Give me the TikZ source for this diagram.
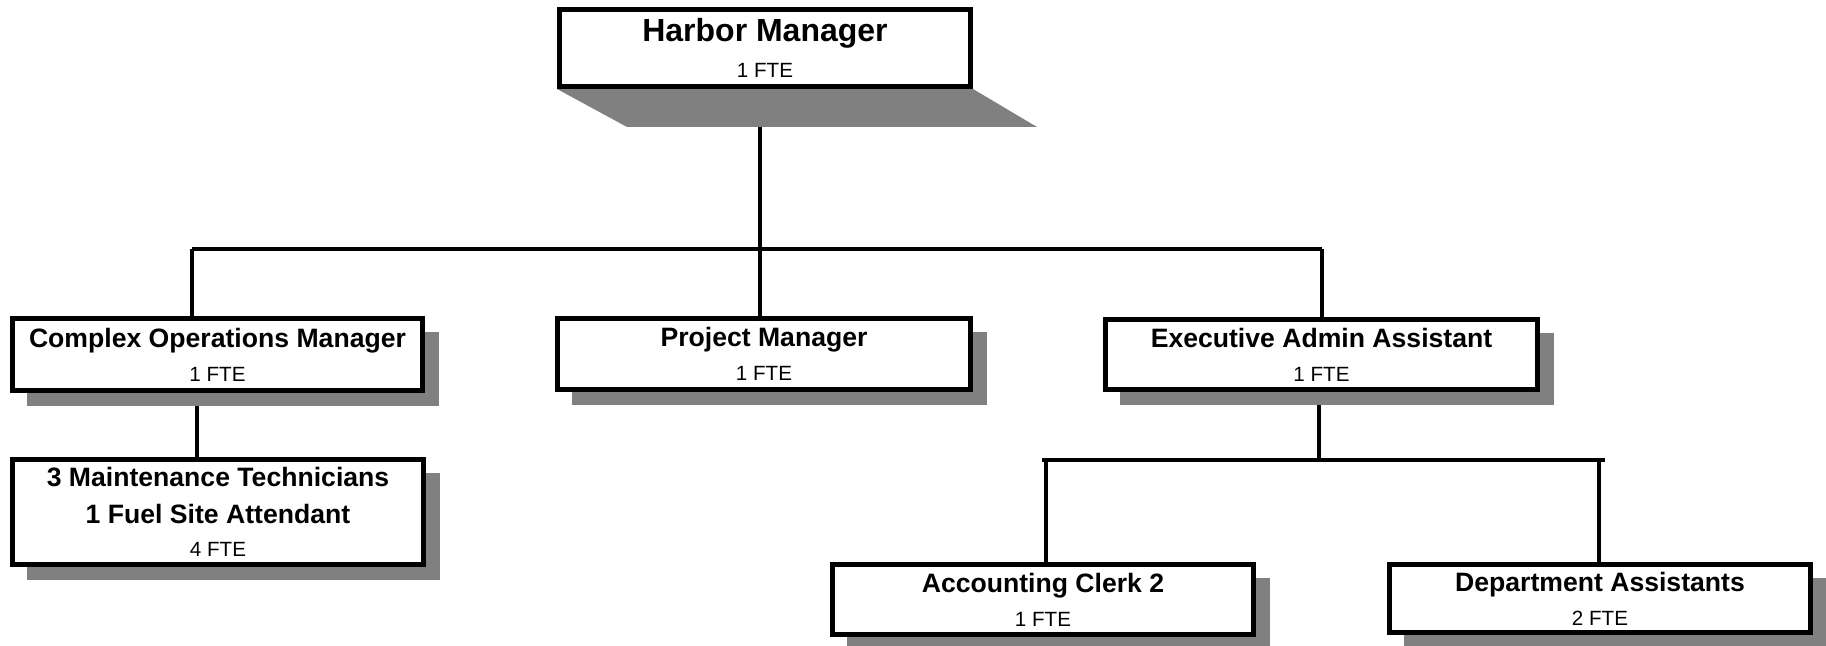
\documentclass[tikz,border=0pt]{standalone}
\usepackage{fontspec}
\setmainfont{Liberation Sans}
\definecolor{shadowgray}{HTML}{808080}
\pgfdeclarelayer{bg}
\pgfsetlayers{bg,main}
\newcommand\ftefont{\fontsize{10.3}{17}\selectfont\mdseries}
\begin{document}
\begin{tikzpicture}[x=0.5pt,y=-0.5pt,
  box/.style={draw=black, line width=2.5pt, fill=white, align=center, inner sep=0pt,
              font=\fontsize{13.3}{17}\selectfont\bfseries},
  conn/.style={draw=black, line width=2.4pt},
  shade/.style={fill=shadowgray}]
\useasboundingbox (0,0) rectangle (1826,646);

% boxes
\node[box, font=\fontsize{16}{18.3}\selectfont\bfseries, minimum width=205.5pt, minimum height=38.5pt]
  (hm) at (765,48) {Harbor Manager\\\ftefont 1 FTE};
\node[box, minimum width=205pt, minimum height=36pt] (com) at (217.5,354.5)
  {Complex Operations Manager\\\ftefont 1 FTE};
\node[box, font=\fontsize{13.3}{18.5}\selectfont\bfseries, minimum width=205.5pt, minimum height=52.5pt] (mnt) at (218,512)
  {3 Maintenance Technicians\\1 Fuel Site Attendant\\[-2pt]\ftefont 4 FTE};
\node[box, minimum width=206.5pt, minimum height=35.5pt] (pm) at (764,354)
  {Project Manager\\\ftefont 1 FTE};
\node[box, minimum width=216pt, minimum height=35pt] (ea) at (1321.5,354.5)
  {Executive Admin Assistant\\\ftefont 1 FTE};
\node[box, minimum width=210.5pt, minimum height=35pt] (ac) at (1043,599.5)
  {Accounting Clerk 2\\\ftefont 1 FTE};
\node[box, minimum width=210.5pt, minimum height=34pt] (da) at (1600,598.5)
  {Department Assistants\\\ftefont 2 FTE};

% junctions
\coordinate (j0) at (760,249);
\coordinate (bl) at (192,249);
\coordinate (br) at (1322,249);
\coordinate (cm) at (197,430);
\coordinate (j1) at (1319,460);
\coordinate (ll) at (1042,460);
\coordinate (lr) at (1605,460);
\coordinate (jl) at (1046,460);
\coordinate (jr) at (1599,460);

\begin{pgfonlayer}{bg}
  % connectors
  \draw[conn] (j0 |- hm.south) -- (j0);
  \draw[conn] (bl) -- (br);
  \draw[conn] (bl) -- (bl |- com.north);
  \draw[conn] (j0) -- (j0 |- pm.north);
  \draw[conn] (br) -- (br |- ea.north);
  \draw[conn] (cm |- com.south) -- (cm |- mnt.north);
  \draw[conn] (j1 |- ea.south) -- (j1);
  \draw[conn] (ll) -- (lr);
  \draw[conn] (jl) -- (jl |- ac.north);
  \draw[conn] (jr) -- (jr |- da.north);
  % shadows
  \fill[shade] (hm.south west) -- (hm.south east) -- ([shift={(64,38)}]hm.south east)
     -- ([shift={(70,38)}]hm.south west) -- cycle;
  \foreach \n in {com,mnt,pm,ea,ac,da}
    \fill[shade] ([shift={(17,16)}]\n.north west) rectangle ([shift={(14,13)}]\n.south east);
\end{pgfonlayer}
\end{tikzpicture}
\end{document}
